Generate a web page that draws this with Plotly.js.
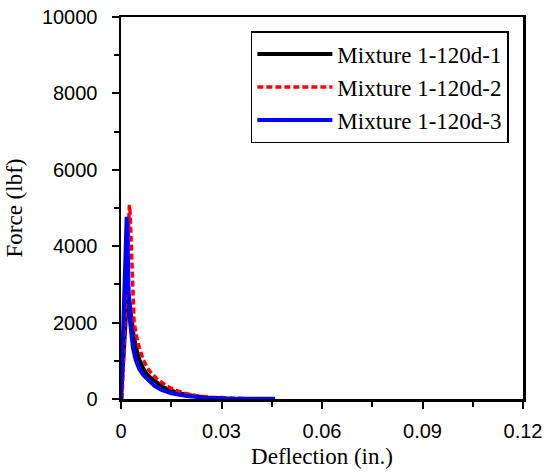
<!DOCTYPE html>
<html>
<head>
<meta charset="utf-8">
<script src="https://cdn.plot.ly/plotly-3.0.1.min.js"></script>
<style>html,body{margin:0;padding:0;background:#fff;}#chart{width:545px;height:474px;}</style>
</head>
<body>
<div id="chart"></div>
<script>
// Mixture 1-120d-1 (black, solid)
const x1 = [0, 0.0004, 0.0008, 0.0012, 0.0016, 0.0019, 0.0023, 0.0028, 0.0032, 0.0038, 0.0046, 0.0055, 0.0065, 0.0077, 0.0090, 0.0099, 0.0112, 0.0128, 0.0146, 0.0170, 0.0195, 0.0215, 0.0250, 0.0300];
const y1 = [0, 600, 1400, 2100, 2600, 2810, 2700, 2300, 2000, 1650, 1300, 1020, 820, 650, 540, 480, 390, 300, 235, 160, 110, 80, 40, 15];

// Mixture 1-120d-2 (red, dashed)
const x2 = [0.0003, 0.0008, 0.0013, 0.0018, 0.0022, 0.0025, 0.0027, 0.0030, 0.0033, 0.0036, 0.0039, 0.0045, 0.0054, 0.0067, 0.0078, 0.0090, 0.0111, 0.0135, 0.0161, 0.0190, 0.0230, 0.0270, 0.0320, 0.0376];
const y2 = [0, 1200, 2500, 3800, 4700, 5080, 4900, 4000, 3100, 2500, 2015, 1700, 1350, 1020, 820, 680, 500, 350, 235, 150, 80, 45, 25, 10];

// Mixture 1-120d-3 (blue, solid)
const x3 = [0, 0.0004, 0.0008, 0.0012, 0.0017, 0.0020, 0.0022, 0.0027, 0.0031, 0.0036, 0.0044, 0.0055, 0.0067, 0.0081, 0.0100, 0.0121, 0.0150, 0.0196, 0.0250, 0.0320, 0.0400, 0.0460];
const y3 = [0, 1200, 2600, 3900, 4770, 4100, 3000, 2020, 1650, 1320, 1020, 780, 620, 500, 340, 235, 150, 80, 35, 15, 8, 5];

const names = ['Mixture 1-120d-1', 'Mixture 1-120d-2', 'Mixture 1-120d-3'];
const xTicks = [0, 0.03, 0.06, 0.09, 0.12];
const xTickText = ['0', '0.03', '0.06', '0.09', '0.12'];
const yTicks = [0, 2000, 4000, 6000, 8000, 10000];
const yTickText = ['0', '2000', '4000', '6000', '8000', '10000'];

const serif = 'Liberation Serif, Times New Roman, serif';
const sans = 'Liberation Sans, Arial, sans-serif';

const data = [
  {x: x1, y: y1, name: names[0], mode: 'lines', line: {color: '#000000', width: 4}},
  {x: x2, y: y2, name: names[1], mode: 'lines', line: {color: '#ff0000', width: 3.5, dash: '6px,3px'}},
  {x: x3, y: y3, name: names[2], mode: 'lines', line: {color: '#0000ff', width: 4}}
];

const layout = {
  width: 545, height: 474,
  margin: {l: 121, r: 22, t: 17, b: 75},
  paper_bgcolor: '#ffffff', plot_bgcolor: '#ffffff',
  showlegend: true,
  legend: {
    x: 0.323, y: 0.963, xanchor: 'left', yanchor: 'top',
    bgcolor: '#ffffff', bordercolor: '#000000', borderwidth: 1.5,
    font: {family: serif, size: 23, color: '#000'},
    itemwidth: 75, tracegroupgap: 0
  },
  xaxis: {
    range: [0, 0.12], tickvals: xTicks, ticktext: xTickText,
    ticks: 'outside', ticklen: 7, tickwidth: 2, tickcolor: '#000',
    minor: {dtick: 0.015, ticks: 'outside', ticklen: 5, tickwidth: 2, tickcolor: '#000'},
    showline: true, linewidth: 2.5, linecolor: '#000', mirror: true,
    showgrid: false, zeroline: false,
    ticklabelstandoff: 5,
    tickfont: {family: sans, size: 20, color: '#000'},
    title: {text: 'Deflection (in.)', font: {family: serif, size: 23, color: '#000'}, standoff: 8}
  },
  yaxis: {
    range: [0, 10000], tickvals: yTicks, ticktext: yTickText,
    ticks: 'outside', ticklen: 7, tickwidth: 2, tickcolor: '#000',
    minor: {dtick: 1000, ticks: 'outside', ticklen: 5, tickwidth: 2, tickcolor: '#000'},
    showline: true, linewidth: 2.5, linecolor: '#000', mirror: true,
    showgrid: false, zeroline: false,
    ticklabelstandoff: 10,
    tickfont: {family: sans, size: 20, color: '#000'},
    title: {text: 'Force (lbf)', font: {family: serif, size: 23, color: '#000'}, standoff: 13}
  }
};

Plotly.newPlot('chart', data, layout, {displayModeBar: false, staticPlot: true});
</script>
</body>
</html>
